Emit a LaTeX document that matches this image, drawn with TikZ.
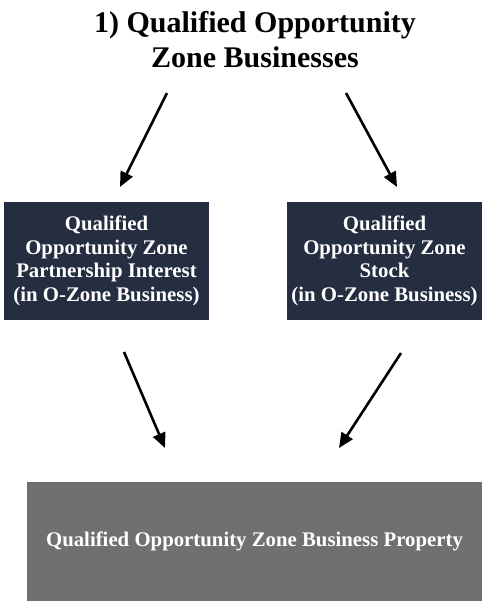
\documentclass[tikz,border=0pt]{standalone}
\usepackage{fontspec}
\setmainfont{Liberation Serif}
\usetikzlibrary{arrows.meta, positioning}
\definecolor{OZNavy}{HTML}{252D40}
\definecolor{OZGray}{HTML}{707070}
\tikzset{
  heading/.style={align=center, font=\fontsize{30}{34.5}\selectfont\bfseries, inner sep=0pt},
  zonebox/.style={rectangle, fill=OZNavy, text=white, align=center, minimum height=118pt, inner sep=0pt, font=\fontsize{20.8}{23.6}\selectfont\bfseries},
  propbox/.style={rectangle, fill=OZGray, text=white, align=center, minimum width=455pt, minimum height=119pt, inner sep=0pt, font=\fontsize{20.8}{23.6}\selectfont\bfseries},
  arrow/.style={-{Triangle[length=15pt, width=13pt]}, line width=2.6pt, draw=black}
}

\begin{document}
\begin{tikzpicture}[x=1pt, y=-1pt]
            \useasboundingbox (0,0) rectangle (496,608);
            \node (title) [heading] at (255,39.5) {1) Qualified Opportunity \\ Zone Businesses};
            \node (partner) [zonebox, minimum width=205pt] at (106.5,261) {Qualified \\ Opportunity Zone \\ Partnership Interest \\ (in O-Zone Business)};
            \node (stock) [zonebox, minimum width=195pt] at (384.5,261) {Qualified \\ Opportunity Zone \\ Stock \\ (in O-Zone Business)};
            \node (property) [propbox] at (254.5,541.5) {Qualified Opportunity Zone Business Property};
            \coordinate (titleL) at (167,93);
            \coordinate (titleR) at (346,93);
            \coordinate (partnerT) at (120,187);
            \coordinate (stockT) at (397,187);
            \coordinate (partnerB) at (124,352);
            \coordinate (stockB) at (401,353);
            \coordinate (propL) at (165,448);
            \coordinate (propR) at (339,448);
            \draw [arrow] (titleL) -- (partnerT);
            \draw [arrow] (titleR) -- (stockT);
            \draw [arrow] (partnerB) -- (propL);
            \draw [arrow] (stockB) -- (propR);
        \end{tikzpicture}
\end{document}
